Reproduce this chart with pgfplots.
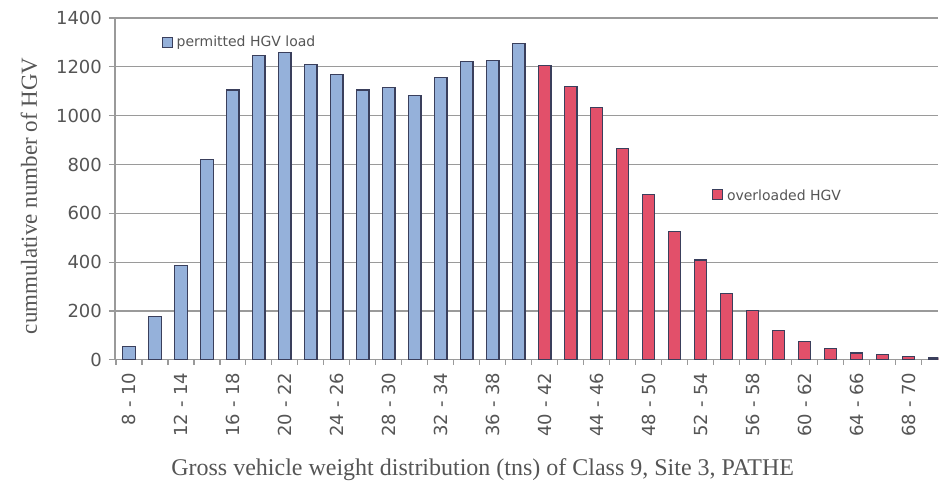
\documentclass[border=0pt]{standalone}
\usepackage{fontspec}
\setmainfont{Liberation Serif}
\newfontfamily\ticksf{DejaVu Sans}
\usepackage{pgfplots}
\pgfplotsset{compat=1.18}
\definecolor{barblue}{HTML}{95B1DA}
\definecolor{barred}{HTML}{E2506A}
\definecolor{barline}{HTML}{3A3F5C}
\definecolor{txtgray}{HTML}{555555}
\definecolor{gridgray}{HTML}{9A9A9A}
\begin{document}
\begin{tikzpicture}
\begin{axis}[
  scale only axis, width=412pt, height=171pt,
  xmin=-0.54, xmax=31.15, ymin=0, ymax=1400,
  axis lines*=left,
  axis line style={gridgray, line width=0.6pt, -},
  ytick={0,200,...,1400},
  ymajorgrids, grid style={gridgray, line width=0.6pt},
  xtick={0,2,...,30},
  xticklabels={8 - 10, 12 - 14, 16 - 18, 20 - 22, 24 - 26, 28 - 30, 32 - 34, 36 - 38, 40 - 42, 44 - 46, 48 - 50, 52 - 54, 56 - 58, 60 - 62, 64 - 66, 68 - 70},
  x tick label style={rotate=90, anchor=east, font=\ticksf\fontsize{9}{9}\selectfont, text=txtgray},
  y tick label style={font=\ticksf\fontsize{9}{9}\selectfont, text=txtgray},
  /pgf/number format/assume math mode=true,
  /pgf/number format/1000 sep={},
  tick align=outside,
  major tick length=3pt, minor tick length=2.5pt,
  minor xtick={-0.5,0.5,...,30.5},
  major x tick style={draw=none},
  minor x tick style={gridgray, line width=0.6pt},
  major y tick style={gridgray, line width=0.6pt},
]
\addplot[ybar, bar shift=0pt, bar width=6.2pt, fill=barblue, draw=barline, line width=0.6pt] coordinates {
 (0,54) (1,177) (2,386) (3,819) (4,1105) (5,1246) (6,1258) (7,1208)
 (8,1170) (9,1105) (10,1115) (11,1082) (12,1157) (13,1221) (14,1225) (15,1296)
};
\addplot[ybar, bar shift=0pt, bar width=6.2pt, fill=barred, draw=barline, line width=0.6pt] coordinates {
 (16,1205) (17,1119) (18,1034) (19,864) (20,678) (21,525) (22,409) (23,273)
 (24,202) (25,120) (26,75) (27,45) (28,28) (29,22) (30,12) (31,7)
};
\node[draw=barline, fill=barblue, line width=0.5pt, minimum size=5pt, inner sep=0pt] at (axis cs:1.47,1298) {};
\node[anchor=west, inner sep=0pt, font=\ticksf\fontsize{7}{7}\selectfont, text=txtgray] at (axis cs:1.82,1298) {permitted HGV load};
\node[draw=barline, fill=barred, line width=0.5pt, minimum size=5pt, inner sep=0pt] at (axis cs:22.65,675) {};
\node[anchor=west, inner sep=0pt, font=\ticksf\fontsize{7}{7}\selectfont, text=txtgray] at (axis cs:23.0,675) {overloaded HGV};
\end{axis}
\node[rotate=90, text=txtgray, font=\fontsize{11.5}{11.5}\selectfont] at (-43pt,82pt) {cummulative number of HGV};
\node[text=txtgray, font=\fontsize{12}{12}\selectfont] at (184pt,-55pt) {Gross vehicle weight distribution (tns) of Class 9, Site 3, PATHE};
\path[use as bounding box] (-57.5pt,-68pt) rectangle (412pt,180pt);
\end{tikzpicture}
\end{document}
